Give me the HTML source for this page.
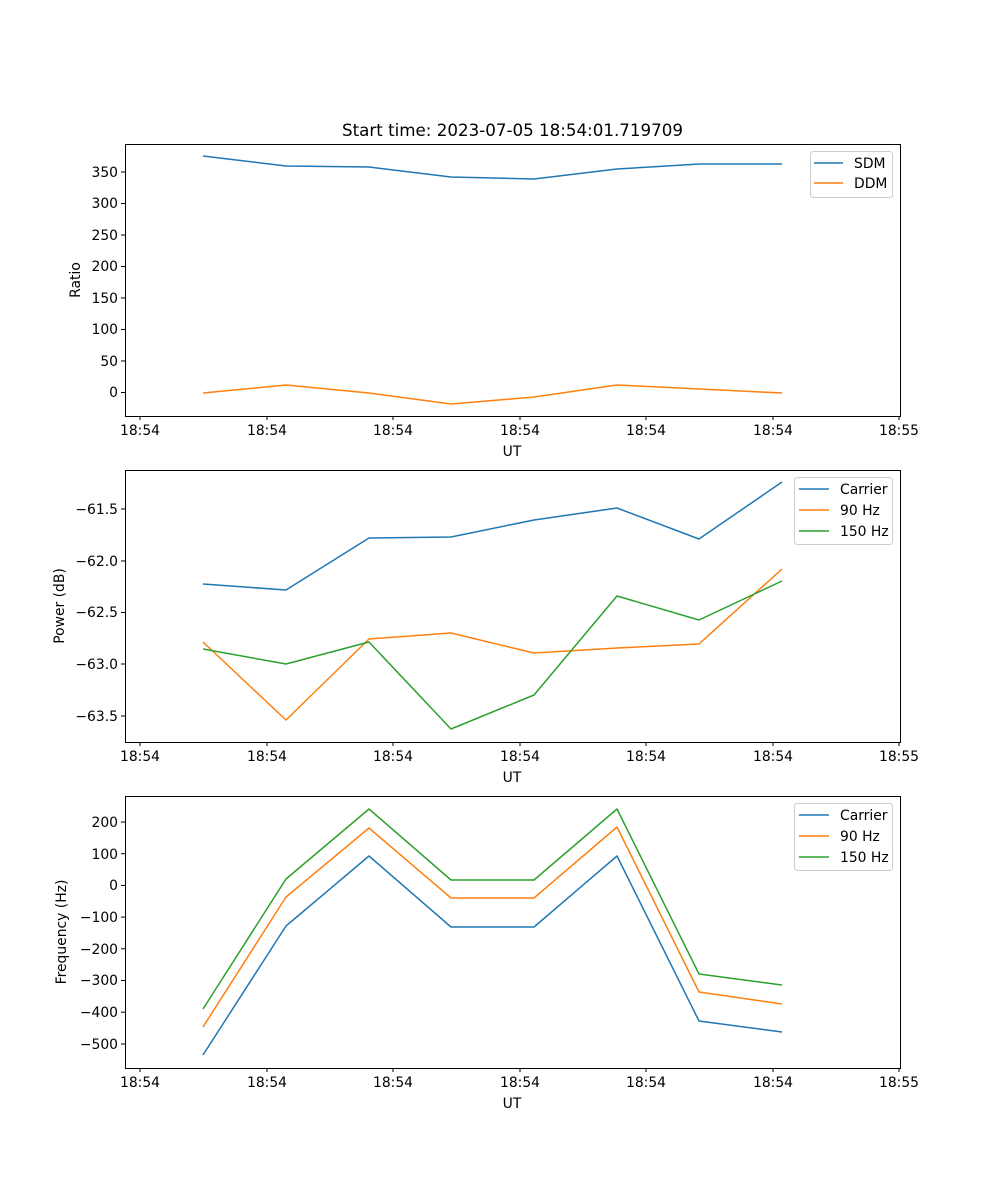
<!DOCTYPE html>
<html><head><meta charset="utf-8"><style>
html,body{margin:0;padding:0;background:#fff;}
svg{display:block;font-family:"DejaVu Sans","Liberation Sans",sans-serif;}
</style></head><body>
<svg width="1000" height="1200" viewBox="0 0 1000 1200" xmlns="http://www.w3.org/2000/svg" font-size="13.9">
<rect width="1000" height="1200" fill="#fff"/>
<text x="512.5" y="136" font-size="16.7" text-anchor="middle">Start time: 2023-07-05 18:54:01.719709</text>

<!-- Panel 1 -->
<g fill="none" stroke-width="1.5" stroke-linejoin="round">
<polyline stroke="#1f77b4" points="203,156 286,166 369,167 451,177 534,179 617,169 700,164 782,164"/>
<polyline stroke="#ff7f0e" points="203,393 286,385 369,393 451,404 534,397 617,385 700,389 782,393"/>
</g>
<rect x="125.5" y="144.5" width="775" height="272" fill="none" stroke="#000" stroke-width="1"/>
<g stroke="#000" stroke-width="1">
<line x1="121" x2="125" y1="172" y2="172"/><line x1="121" x2="125" y1="203.5" y2="203.5"/><line x1="121" x2="125" y1="235" y2="235"/><line x1="121" x2="125" y1="266.5" y2="266.5"/><line x1="121" x2="125" y1="298" y2="298"/><line x1="121" x2="125" y1="329.5" y2="329.5"/><line x1="121" x2="125" y1="361" y2="361"/><line x1="121" x2="125" y1="392.5" y2="392.5"/>
</g>
<g text-anchor="end">
<text x="118" y="177">350</text><text x="118" y="208">300</text><text x="118" y="240">250</text><text x="118" y="271">200</text><text x="118" y="303">150</text><text x="118" y="334">100</text><text x="118" y="366">50</text><text x="118" y="397">0</text>
</g>
<text transform="translate(80,280) rotate(-90)" text-anchor="middle">Ratio</text>
<g stroke="#000"><line x1="140" x2="140" y1="416" y2="420"/><line x1="267" x2="267" y1="416" y2="420"/><line x1="393" x2="393" y1="416" y2="420"/><line x1="520" x2="520" y1="416" y2="420"/><line x1="646" x2="646" y1="416" y2="420"/><line x1="773" x2="773" y1="416" y2="420"/><line x1="899" x2="899" y1="416" y2="420"/></g>
<g text-anchor="middle"><text x="140" y="435">18:54</text><text x="267" y="435">18:54</text><text x="393" y="435">18:54</text><text x="520" y="435">18:54</text><text x="646" y="435">18:54</text><text x="773" y="435">18:54</text><text x="899" y="435">18:55</text><text x="512" y="456">UT</text></g>
<rect x="810.5" y="151.5" width="82" height="46" rx="3" fill="#fff" stroke="#ccc"/>
<line x1="814" x2="843" y1="163" y2="163" stroke="#1f77b4" stroke-width="1.5"/>
<line x1="814" x2="843" y1="183" y2="183" stroke="#ff7f0e" stroke-width="1.5"/>
<text x="854" y="168">SDM</text><text x="854" y="188">DDM</text>

<!-- Panel 2 -->
<g fill="none" stroke-width="1.5" stroke-linejoin="round">
<polyline stroke="#1f77b4" points="203,584 286,590 369,538 451,537 534,520 617,508 699,539 782,482"/>
<polyline stroke="#ff7f0e" points="203,642 286,720 369,639 451,633 534,653 617,648 699,644 782,569"/>
<polyline stroke="#2ca02c" points="203,649 286,664 369,642 451,729 534,695 617,596 699,620 782,581"/>
</g>
<rect x="125.5" y="470.5" width="775" height="272" fill="none" stroke="#000"/>
<g stroke="#000"><line x1="121" x2="125" y1="509" y2="509"/><line x1="121" x2="125" y1="561" y2="561"/><line x1="121" x2="125" y1="612.5" y2="612.5"/><line x1="121" x2="125" y1="664" y2="664"/><line x1="121" x2="125" y1="716" y2="716"/></g>
<g text-anchor="end"><text x="118" y="514">−61.5</text><text x="118" y="566">−62.0</text><text x="118" y="617">−62.5</text><text x="118" y="669">−63.0</text><text x="118" y="721">−63.5</text></g>
<text transform="translate(64,606) rotate(-90)" text-anchor="middle">Power (dB)</text>
<g stroke="#000"><line x1="140" x2="140" y1="742" y2="746"/><line x1="267" x2="267" y1="742" y2="746"/><line x1="393" x2="393" y1="742" y2="746"/><line x1="520" x2="520" y1="742" y2="746"/><line x1="646" x2="646" y1="742" y2="746"/><line x1="773" x2="773" y1="742" y2="746"/><line x1="899" x2="899" y1="742" y2="746"/></g>
<g text-anchor="middle"><text x="140" y="761">18:54</text><text x="267" y="761">18:54</text><text x="393" y="761">18:54</text><text x="520" y="761">18:54</text><text x="646" y="761">18:54</text><text x="773" y="761">18:54</text><text x="899" y="761">18:55</text><text x="512" y="782">UT</text></g>
<rect x="794.5" y="477.5" width="98" height="67" rx="3" fill="#fff" stroke="#ccc"/>
<line x1="799" x2="829" y1="489" y2="489" stroke="#1f77b4" stroke-width="1.5"/>
<line x1="799" x2="829" y1="510" y2="510" stroke="#ff7f0e" stroke-width="1.5"/>
<line x1="799" x2="829" y1="531" y2="531" stroke="#2ca02c" stroke-width="1.5"/>
<text x="840" y="494">Carrier</text><text x="840" y="515">90 Hz</text><text x="840" y="536">150 Hz</text>

<!-- Panel 3 -->
<g fill="none" stroke-width="1.5" stroke-linejoin="round">
<polyline stroke="#1f77b4" points="203,1055 286,926 369,856 451,927 534,927 617,856 699,1021 782,1032"/>
<polyline stroke="#ff7f0e" points="203,1027 286,897 369,828 451,898 534,898 617,827 699,992 782,1004"/>
<polyline stroke="#2ca02c" points="203,1009 286,879 369,809 451,880 534,880 617,809 699,974 782,985"/>
</g>
<rect x="125.5" y="796.5" width="775" height="272" fill="none" stroke="#000"/>
<g stroke="#000"><line x1="121" x2="125" y1="822" y2="822"/><line x1="121" x2="125" y1="853.7" y2="853.7"/><line x1="121" x2="125" y1="885.4" y2="885.4"/><line x1="121" x2="125" y1="917.1" y2="917.1"/><line x1="121" x2="125" y1="948.8" y2="948.8"/><line x1="121" x2="125" y1="980.5" y2="980.5"/><line x1="121" x2="125" y1="1012.2" y2="1012.2"/><line x1="121" x2="125" y1="1044" y2="1044"/></g>
<g text-anchor="end"><text x="118" y="827">200</text><text x="118" y="859">100</text><text x="118" y="890">0</text><text x="118" y="922">−100</text><text x="118" y="954">−200</text><text x="118" y="985">−300</text><text x="118" y="1017">−400</text><text x="118" y="1049">−500</text></g>
<text transform="translate(66,932) rotate(-90)" text-anchor="middle">Frequency (Hz)</text>
<g stroke="#000"><line x1="140" x2="140" y1="1068" y2="1072"/><line x1="267" x2="267" y1="1068" y2="1072"/><line x1="393" x2="393" y1="1068" y2="1072"/><line x1="520" x2="520" y1="1068" y2="1072"/><line x1="646" x2="646" y1="1068" y2="1072"/><line x1="773" x2="773" y1="1068" y2="1072"/><line x1="899" x2="899" y1="1068" y2="1072"/></g>
<g text-anchor="middle"><text x="140" y="1087">18:54</text><text x="267" y="1087">18:54</text><text x="393" y="1087">18:54</text><text x="520" y="1087">18:54</text><text x="646" y="1087">18:54</text><text x="773" y="1087">18:54</text><text x="899" y="1087">18:55</text><text x="512" y="1108">UT</text></g>
<rect x="794.5" y="803.5" width="98" height="67" rx="3" fill="#fff" stroke="#ccc"/>
<line x1="799" x2="829" y1="815" y2="815" stroke="#1f77b4" stroke-width="1.5"/>
<line x1="799" x2="829" y1="836" y2="836" stroke="#ff7f0e" stroke-width="1.5"/>
<line x1="799" x2="829" y1="857" y2="857" stroke="#2ca02c" stroke-width="1.5"/>
<text x="840" y="820">Carrier</text><text x="840" y="841">90 Hz</text><text x="840" y="862">150 Hz</text>
</svg>
</body></html>
